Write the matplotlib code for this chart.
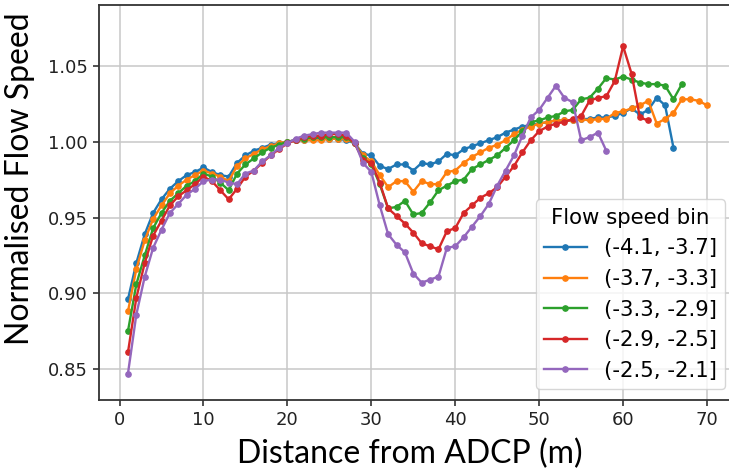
import matplotlib
matplotlib.use("Agg")
import matplotlib.pyplot as plt

# Distance from the ADCP (m) for each series
dist_a = list(range(1, 67))   # (-4.1, -3.7]
dist_b = list(range(1, 71))   # (-3.7, -3.3]
dist_c = list(range(1, 68))   # (-3.3, -2.9]
dist_d = list(range(1, 64))   # (-2.9, -2.5]
dist_e = list(range(1, 59))   # (-2.5, -2.1]

speed_a = [0.896, 0.920, 0.939, 0.953, 0.962, 0.969, 0.974, 0.978, 0.980, 0.983,
           0.980, 0.978, 0.977, 0.986, 0.991, 0.994, 0.996, 0.998, 0.999, 1.000,
           1.001, 1.001, 1.002, 1.002, 1.002, 1.002, 1.001, 0.999, 0.992, 0.991,
           0.984, 0.982, 0.985, 0.985, 0.981, 0.986, 0.985, 0.987, 0.992, 0.991,
           0.995, 0.997, 0.999, 1.001, 1.003, 1.006, 1.008, 1.010, 1.011, 1.012,
           1.013, 1.014, 1.014, 1.014, 1.015, 1.015, 1.016, 1.016, 1.017, 1.019,
           1.022, 1.018, 1.021, 1.029, 1.024, 0.996]

speed_b = [0.888, 0.916, 0.935, 0.949, 0.958, 0.966, 0.971, 0.975, 0.978, 0.981,
           0.979, 0.977, 0.974, 0.984, 0.989, 0.992, 0.995, 0.997, 0.999, 1.000,
           1.001, 1.001, 1.001, 1.001, 1.002, 1.002, 1.002, 0.999, 0.991, 0.987,
           0.978, 0.970, 0.974, 0.974, 0.967, 0.974, 0.972, 0.972, 0.980, 0.981,
           0.986, 0.990, 0.993, 0.996, 0.998, 1.001, 1.005, 1.008, 1.010, 1.012,
           1.013, 1.014, 1.014, 1.014, 1.015, 1.014, 1.015, 1.015, 1.019, 1.020,
           1.022, 1.024, 1.027, 1.012, 1.015, 1.019, 1.028, 1.028, 1.027, 1.024]

speed_c = [0.875, 0.906, 0.925, 0.943, 0.953, 0.961, 0.966, 0.971, 0.974, 0.979,
           0.977, 0.973, 0.968, 0.979, 0.985, 0.989, 0.993, 0.996, 0.998, 1.000,
           1.001, 1.002, 1.003, 1.003, 1.003, 1.003, 1.003, 0.999, 0.989, 0.985,
           0.972, 0.956, 0.957, 0.961, 0.952, 0.953, 0.960, 0.968, 0.971, 0.974,
           0.975, 0.982, 0.985, 0.988, 0.991, 0.996, 1.001, 1.007, 1.013, 1.014,
           1.016, 1.017, 1.020, 1.021, 1.028, 1.029, 1.035, 1.042, 1.041, 1.043,
           1.041, 1.039, 1.038, 1.038, 1.037, 1.028, 1.038]

speed_d = [0.861, 0.897, 0.920, 0.938, 0.948, 0.958, 0.964, 0.968, 0.972, 0.977,
           0.974, 0.968, 0.962, 0.969, 0.977, 0.981, 0.986, 0.991, 0.995, 0.999,
           1.001, 1.003, 1.004, 1.004, 1.005, 1.005, 1.004, 0.999, 0.988, 0.986,
           0.973, 0.956, 0.951, 0.946, 0.940, 0.933, 0.931, 0.929, 0.941, 0.943,
           0.953, 0.958, 0.963, 0.966, 0.970, 0.977, 0.984, 0.993, 1.001, 1.007,
           1.010, 1.012, 1.013, 1.015, 1.017, 1.027, 1.029, 1.030, 1.040, 1.063,
           1.045, 1.016, 1.014]

speed_e = [0.847, 0.886, 0.911, 0.930, 0.942, 0.953, 0.959, 0.965, 0.969, 0.974,
           0.975, 0.975, 0.973, 0.972, 0.979, 0.981, 0.987, 0.991, 0.996, 0.999,
           1.002, 1.004, 1.005, 1.006, 1.006, 1.006, 1.006, 1.000, 0.986, 0.980,
           0.958, 0.939, 0.932, 0.927, 0.913, 0.907, 0.909, 0.911, 0.930, 0.931,
           0.937, 0.944, 0.951, 0.959, 0.971, 0.981, 0.991, 1.004, 1.016, 1.021,
           1.029, 1.037, 1.029, 1.026, 1.001, 1.003, 1.006, 0.994]

bin_labels = ["(-4.1, -3.7]", "(-3.7, -3.3]", "(-3.3, -2.9]", "(-2.9, -2.5]", "(-2.5, -2.1]"]
colors = ["#1f77b4", "#ff7f0e", "#2ca02c", "#d62728", "#9467bd"]

series = [(dist_a, speed_a), (dist_b, speed_b), (dist_c, speed_c),
          (dist_d, speed_d), (dist_e, speed_e)]

fig = plt.figure(figsize=(7.29, 4.75), dpi=100)
ax = fig.add_axes([99 / 729, 75 / 475, (736 - 99) / 729, (400 - 5) / 475])

for (x, y), lab, col in zip(series, bin_labels, colors):
    ax.plot(x, y, marker="o", markersize=3.8, linewidth=1.7, color=col, label=lab)

ax.set_xlim(-2.45, 73.45)
ax.set_ylim(0.8296, 1.0902)
ax.set_xticks([0, 10, 20, 30, 40, 50, 60, 70])
ax.set_yticks([0.85, 0.90, 0.95, 1.00, 1.05])
ax.grid(True, color="#c8c8c8", linewidth=1.1)
ax.tick_params(labelsize=13, length=4.5, width=1.1, colors="#222222")
for s in ax.spines.values():
    s.set_linewidth(1.3)
    s.set_color("#333333")

ax.set_xlabel("Distance from ADCP (m)", fontsize=23, family="Lato")
ax.set_ylabel("Normalised Flow Speed", fontsize=23, family="Lato")
ax.xaxis.set_label_coords(0.488, -0.098)
ax.yaxis.set_label_coords(-0.100, 0.560)

leg = ax.legend(title="Flow speed bin", loc="lower right", fontsize=15.3,
                title_fontsize=15.3, framealpha=0.8)

fig.savefig("out.png", dpi=100)
